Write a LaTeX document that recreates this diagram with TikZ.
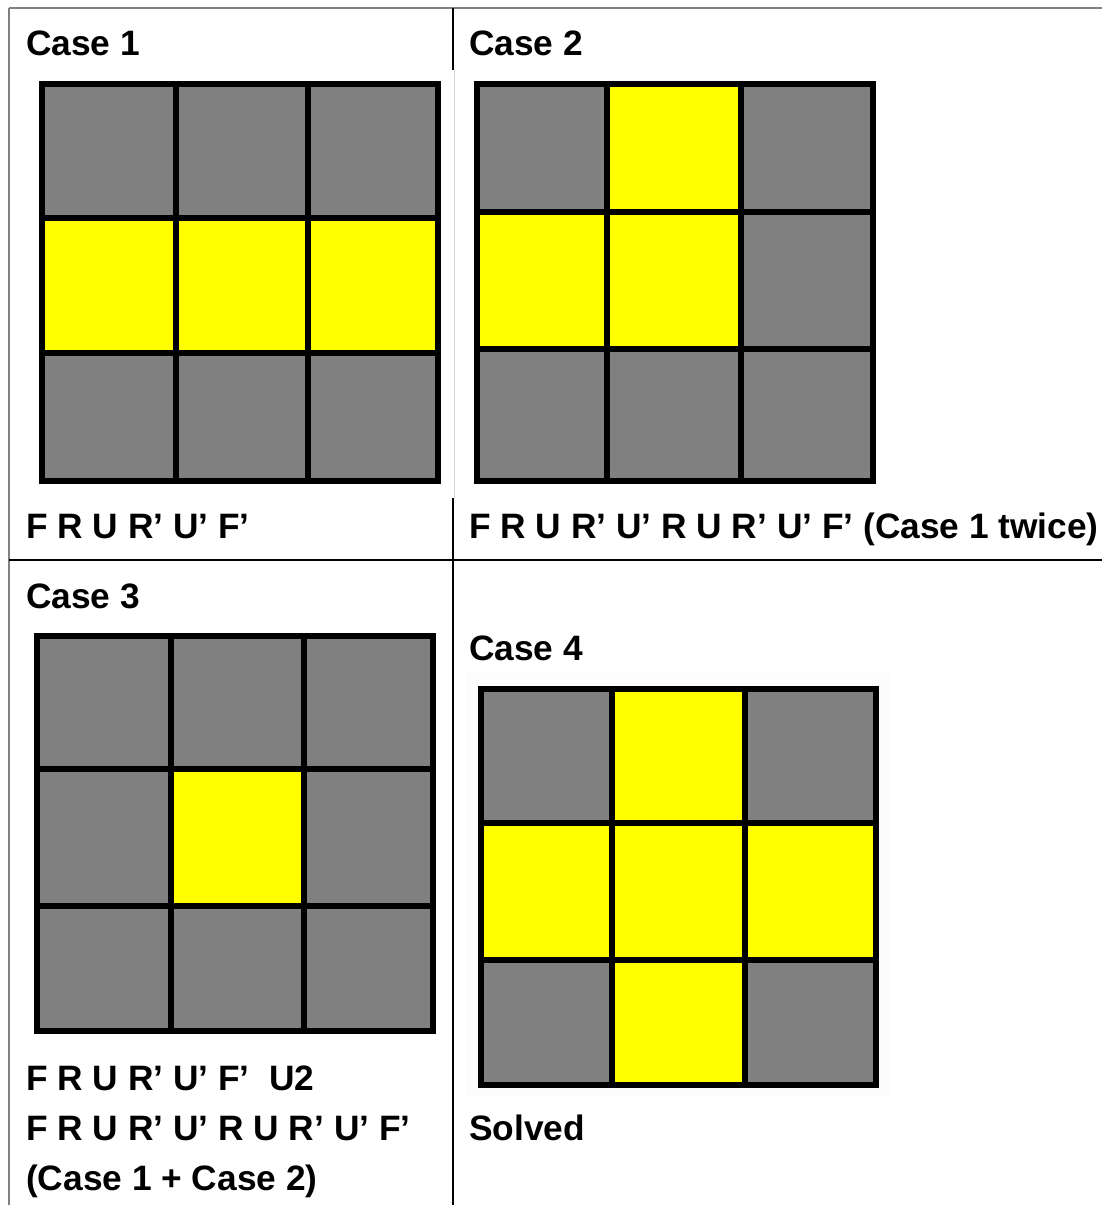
\documentclass[tikz,border=0pt]{standalone}
\usepackage{fontspec}
\setmainfont{Liberation Sans}
\begin{document}
\begin{tikzpicture}[x=1pt,y=-1pt,
  lbl/.style={anchor=base west,inner sep=0pt,font=\fontsize{35.3}{42}\selectfont\bfseries},
  gridline/.style={draw=black,line width=6pt,line cap=rect},
  tblgray/.style={draw=tblgraycol,line width=2pt},
  tblblack/.style={draw=black,line width=1.5pt}]
\definecolor{cubegray}{HTML}{808080}
\definecolor{cubeyellow}{HTML}{FFFF00}
\definecolor{tblgraycol}{HTML}{808080}
\definecolor{faintgray}{HTML}{D4D4D4}
\useasboundingbox (0,0) rectangle (1102,1205);
\fill[white] (0,0) rectangle (1102,1205);

% table rules
\draw[tblgray] (9,8) -- (1102,8);
\draw[tblgray] (9,8) -- (9,1205);
\draw[tblblack] (453,8) -- (453,70);
\draw[draw=faintgray,line width=1pt] (454,70) -- (454,498);
\draw[tblblack] (453,498) -- (453,1205);
\draw[tblblack] (9,560) -- (1102,560);

% faint image background of case 4
\fill[gray!2] (466,673) rectangle (890,1097);

% Case 1 grid
\fill[cubegray] (42,84) rectangle (438,481);
\fill[cubeyellow] (42,218) rectangle (438,353);
\draw[gridline] (42,84) rectangle (438,481);
\draw[gridline] (176,84) -- (176,481) (308,84) -- (308,481)
  (42,218) -- (438,218) (42,353) -- (438,353);

% Case 2 grid
\fill[cubegray] (477,84) rectangle (873,481);
\fill[cubeyellow] (607,84) rectangle (741,349);
\fill[cubeyellow] (477,212) rectangle (607,349);
\draw[gridline] (477,84) rectangle (873,481);
\draw[gridline] (607,84) -- (607,481) (741,84) -- (741,481)
  (477,212) -- (873,212) (477,349) -- (873,349);

% Case 3 grid
\fill[cubegray] (37,636) rectangle (433,1031);
\fill[cubeyellow] (171,769) rectangle (304,906);
\draw[gridline] (37,636) rectangle (433,1031);
\draw[gridline] (171,636) -- (171,1031) (304,636) -- (304,1031)
  (37,769) -- (433,769) (37,906) -- (433,906);

% Case 4 grid
\fill[cubegray] (481,689) rectangle (876,1085);
\fill[cubeyellow] (612,689) rectangle (745,1085);
\fill[cubeyellow] (481,823) rectangle (876,960);
\draw[gridline] (481,689) rectangle (876,1085);
\draw[gridline] (612,689) -- (612,1085) (745,689) -- (745,1085)
  (481,823) -- (876,823) (481,960) -- (876,960);

% labels
\node[lbl] (c1) at (26,55) {Case 1};
\node[lbl] (c2) at (469,55) {Case 2};
\node[lbl] (a1) at (26,538) {F R U R’ U’ F’};
\node[lbl] (a2) at (469,538) {F R U R’ U’ R U R’ U’ F’ (Case 1 twice)};
\node[lbl] (c3) at (26,608) {Case 3};
\node[lbl] (c4) at (469,660) {Case 4};
\node[lbl] (a3a) at (26,1090) {F R U R’ U’ F’\ \ U2};
\node[lbl] (a3b) at (26,1140) {F R U R’ U’ R U R’ U’ F’};
\node[lbl] (a3c) at (26,1190) {(Case 1 + Case 2)};
\node[lbl] (a4) at (469,1140) {Solved};
\end{tikzpicture}
\end{document}
